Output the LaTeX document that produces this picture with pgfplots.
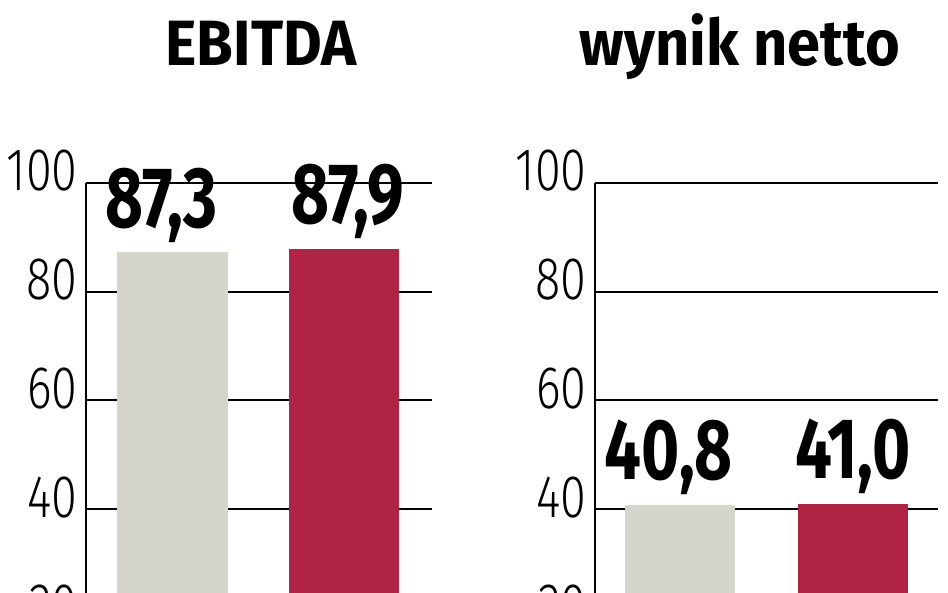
\documentclass[border=0pt]{standalone}
\usepackage{fontspec}
\usepackage{pgfplots}
\pgfplotsset{compat=1.18}
\setmainfont{Fira Sans}
\newfontfamily\titlefont[FakeStretch=0.93]{Fira Sans}
\newfontfamily\valfont[FakeStretch=0.76]{Fira Sans}
\newfontfamily\tickfont[FakeStretch=0.78]{Fira Sans Light}
\definecolor{barGray}{RGB}{213,213,203}
\definecolor{barRed}{RGB}{175,35,68}
\pgfplotsset{
  panel/.style={
    scale only axis, height=217.35pt, ymin=20, ymax=100,
    ytick={20,40,60,80,100},
    axis x line=none, axis y line*=left,
    axis line style={black, line width=1.1pt,-},
    ymajorgrids, major grid style={black, line width=1.1pt},
    major tick length=0pt,
    /pgf/number format/assume math mode=true,
    yticklabel style={font=\fontsize{30}{30}\tickfont, anchor=base east, inner sep=0pt, xshift=-4pt, yshift=-4pt},
    ybar, bar shift=0pt,
    nodes near coords={\pgfmathprintnumber[fixed,fixed zerofill,precision=1,use comma,assume math mode=true]{\pgfplotspointmeta}},
    every node near coord/.append style={font=\fontsize{43}{43}\valfont\bfseries, anchor=base, inner sep=0pt, yshift=12.5pt, text=black},
  }
}
\begin{document}
\begin{tikzpicture}
\path[use as bounding box, clip] (0,0) rectangle (474pt,-296.5pt);
\node[anchor=base, font=\fontsize{32}{32}\titlefont\bfseries] at (130.5pt,-33pt) {EBITDA};
\node[anchor=base, font=\fontsize{32}{32}\titlefont\bfseries] at (370pt,-33pt) {wynik netto};
\begin{axis}[panel, at={(43pt,-91.5pt)}, anchor=north west, width=173pt,
  xmin=-0.504, xmax=1.513, bar width=0.647]
\addplot[fill=barGray, draw=none, every node near coord/.append style={xshift=-5.5pt}] coordinates {(0,87.3)};
\addplot[fill=barRed, draw=none, every node near coord/.append style={xshift=2pt}] coordinates {(1,87.9)};
\end{axis}
\begin{axis}[panel, at={(297.5pt,-91.5pt)}, anchor=north west, width=171.5pt,
  xmin=-0.49, xmax=1.49, bar width=0.636]
\addplot[fill=barGray, draw=none, every node near coord/.append style={xshift=-5.5pt}] coordinates {(0,40.8)};
\addplot[fill=barRed, draw=none] coordinates {(1,41.0)};
\end{axis}
\end{tikzpicture}
\end{document}
